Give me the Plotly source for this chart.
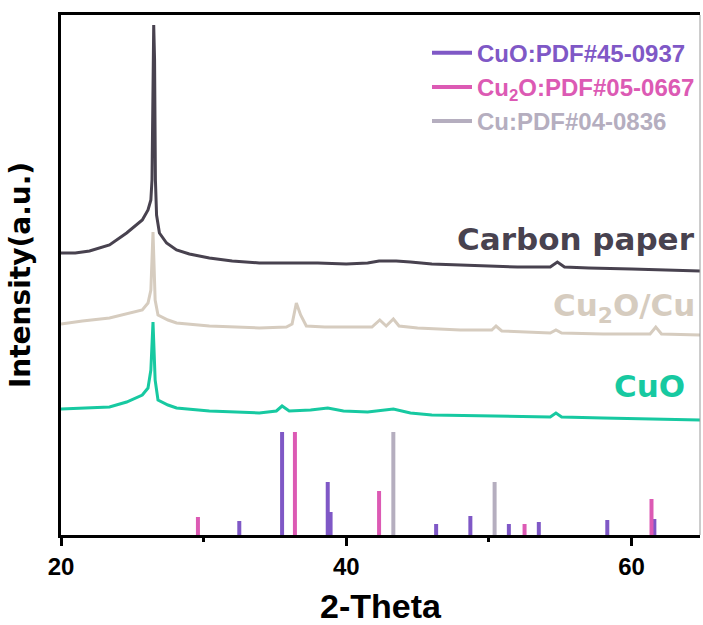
import plotly.graph_objects as go

# ---------------- data ----------------
carbon_x = [20.0, 21.0, 22.0, 23.4, 24.6, 25.7, 26.1, 26.3, 26.38, 26.45, 26.5, 26.56, 26.62, 26.7, 26.9,
            27.4, 28.1, 29.0, 30.4, 32.0, 33.9, 36.0, 38.0, 40.0, 41.5, 42.3, 43.5, 44.5, 46.0, 48.0,
            50.0, 52.0, 54.3, 54.8, 55.3, 57.0, 60.0, 62.0, 64.8]
carbon_y = [282, 282, 284, 290, 302, 315, 325, 335, 355, 475, 510, 475, 355, 320, 302,
            292, 285, 281, 277, 274, 272, 272, 272, 271, 272, 274, 274, 273, 271, 270,
            269, 268, 268, 273, 268, 267, 266, 265, 264]

cu2o_x = [20.0, 21.5, 23.4, 24.6, 25.7, 26.1, 26.3, 26.45, 26.6, 26.8, 27.5, 28.1, 30.4, 33.9, 35.8,
          36.2, 36.5, 36.8, 37.2, 38.5, 41.8, 42.35, 42.8, 43.3, 43.7, 45.0, 48.0, 50.2, 50.5, 50.9,
          54.3, 54.7, 55.1, 58.0, 61.3, 61.7, 62.1, 64.8]
cu2o_y = [211, 214, 217, 221, 225, 232, 245, 303, 235, 220, 215, 212, 209, 207, 208,
          211, 232, 220, 209, 208, 208, 215, 209, 216, 209, 207, 205, 205, 209, 204,
          202, 205, 202, 201, 201, 208, 201, 200]

cuo_x = [20.0, 21.5, 23.4, 24.6, 25.7, 26.1, 26.3, 26.45, 26.6, 26.8, 27.5, 28.1, 30.4, 33.9, 35.1,
         35.5, 36.0, 37.5, 38.7, 39.8, 41.5, 43.3, 44.5, 46.0, 50.0, 54.3, 54.7, 55.1, 58.0, 62.0, 64.8]
cuo_y = [126, 127, 128, 133, 140, 147, 165, 213, 155, 135, 130, 127, 124, 122, 124,
         129, 124, 125, 127, 124, 123, 126, 122, 120, 119, 118, 122, 118, 117, 116, 115]

# reference patterns (stick positions and relative heights)
pdf_cuo_pos = [32.5, 35.5, 38.7, 38.9, 46.3, 48.7, 51.4, 53.5, 58.3, 61.6]
pdf_cuo_int = [14, 103, 53, 23, 11, 19, 11, 13, 15, 16]
pdf_cu2o_pos = [29.6, 36.4, 42.3, 52.5, 61.4]
pdf_cu2o_int = [18, 103, 44, 11, 36]
pdf_cu_pos = [43.3, 50.4]
pdf_cu_int = [103, 53]

series_names = ["Carbon paper", "Cu<sub>2</sub>O/Cu", "CuO"]
pdf_names = ["CuO:PDF#45-0937", "Cu<sub>2</sub>O:PDF#05-0667", "Cu:PDF#04-0836"]
x_ticks = [20, 40, 60]

# ---------------- style ----------------
C_CARBON = "#48424f"
C_CU2O = "#d6ccbf"
C_CUO = "#17c9a1"
C_P_CUO = "#7f58c6"
C_P_CU2O = "#dc5ab4"
C_P_CU = "#b5aebf"

def sticks(pos, inten):
    xs, ys = [], []
    for p, h in zip(pos, inten):
        xs += [p, p, None]
        ys += [0, h, None]
    return xs, ys

fig = go.Figure()
for x, y, c in [(carbon_x, carbon_y, C_CARBON), (cu2o_x, cu2o_y, C_CU2O), (cuo_x, cuo_y, C_CUO)]:
    fig.add_trace(go.Scatter(x=x, y=y, mode="lines", line=dict(color=c, width=3),
                             showlegend=False, hoverinfo="skip"))

for pos, inten, c, nm in [(pdf_cuo_pos, pdf_cuo_int, C_P_CUO, pdf_names[0]),
                          (pdf_cu2o_pos, pdf_cu2o_int, C_P_CU2O, pdf_names[1]),
                          (pdf_cu_pos, pdf_cu_int, C_P_CU, pdf_names[2])]:
    xs, ys = sticks(pos, inten)
    fig.add_trace(go.Scatter(x=xs, y=ys, mode="lines", line=dict(color=c, width=4),
                             name=f"<b><span style='color:{c}'>{nm}</span></b>"))

for txt, yv, c, xs in [(series_names[0], 296, C_CARBON, -3), (series_names[1], 228, C_CU2O, -3),
                       (series_names[2], 149, C_CUO, -13)]:
    fig.add_annotation(x=1, xref="paper", y=yv, yref="y", text=f"<b>{txt}</b>", showarrow=False,
                       xanchor="right", yanchor="middle", xshift=xs,
                       font=dict(family="DejaVu Sans", size=31, color=c))

# right thin border
fig.add_shape(type="line", xref="paper", yref="paper", x0=1, x1=1, y0=0, y1=1,
              line=dict(color="#9a9a9a", width=1))

fig.update_layout(
    width=703, height=625,
    margin=dict(l=61, r=3, t=15, b=90, autoexpand=False),
    paper_bgcolor="white", plot_bgcolor="white",
    legend=dict(x=1.0, y=0.97, xanchor="right", yanchor="top",
                font=dict(family="Liberation Sans, Arial", size=24),
                bgcolor="rgba(0,0,0,0)", tracegroupgap=0, itemwidth=40),
    xaxis=dict(range=[20, 64.8], tickvals=x_ticks, ticks="outside", ticklen=8, tickwidth=3,
               tickcolor="black", showline=True, linewidth=3, linecolor="black", mirror=True,
               showgrid=False, zeroline=False, automargin=False,
               minor=dict(tickvals=[30, 50], ticks="outside", ticklen=4, tickwidth=3, tickcolor="black"),
               tickfont=dict(family="Liberation Sans Narrow, Arial Narrow, Liberation Sans", size=24,
                             weight="bold", color="black"),
               title=dict(text="<b>2-Theta</b>", standoff=18,
                          font=dict(family="Liberation Sans, Arial", size=34, color="black"))),
    yaxis=dict(range=[0, 520], showticklabels=False, ticks="", showline=True, linewidth=3,
               linecolor="black", showgrid=False, zeroline=False, automargin=False,
               title=dict(text="<b>Intensity(a.u.)</b>", standoff=20,
                          font=dict(family="DejaVu Sans", size=28, color="black"))),
)

fig.write_html("out.html", config={"displayModeBar": False},
               post_script="document.body.style.margin='0';document.body.style.overflow='hidden';")
